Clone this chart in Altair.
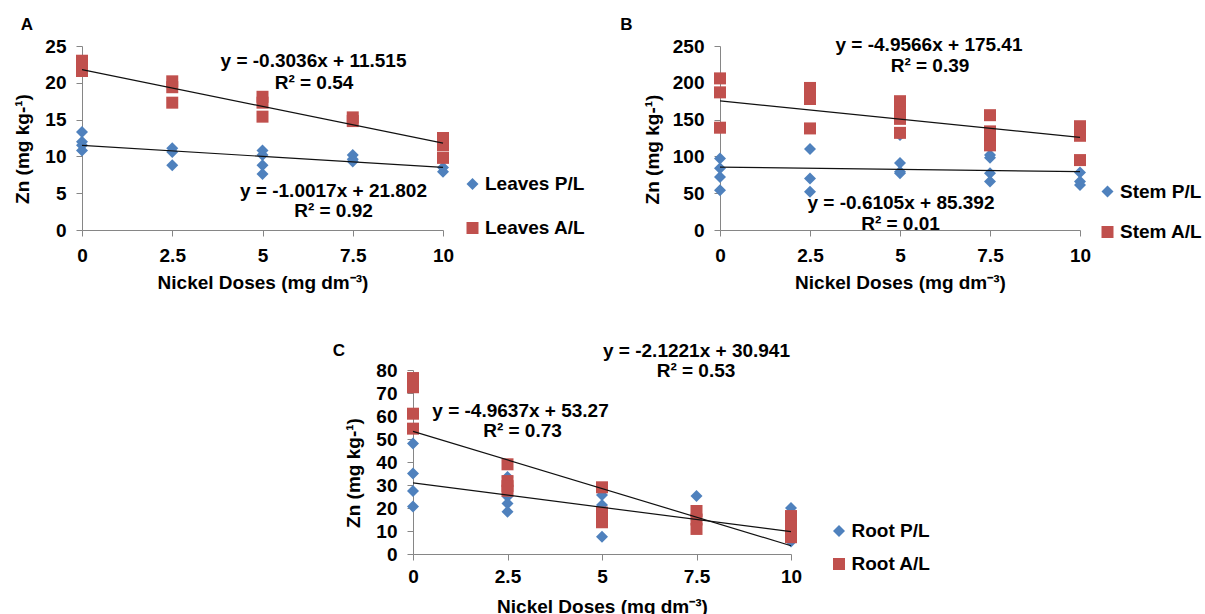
import altair as alt
import pandas as pd

FONT = "Liberation Sans"
BLUE = "#4F81BD"
RED = "#C0504D"
W, H = 1205, 614

# ---------------- data ----------------
x_ticks = [0, 2.5, 5, 7.5, 10]
trend_x = [0, 10]

# Panel A (leaves)
leaves_pl_x = [0, 0, 0, 0, 2.5, 2.5, 2.5, 5, 5, 5, 5, 7.5, 7.5, 7.5, 10, 10]
leaves_pl_y = [13.3, 12.0, 11.5, 10.8, 11.1, 10.6, 8.8, 10.8, 10.2, 8.8, 7.6, 10.2, 9.6, 9.3, 8.5, 7.9]
leaves_al_x = [0, 0, 0, 2.5, 2.5, 2.5, 5, 5, 5, 7.5, 7.5, 10, 10, 10]
leaves_al_y = [23.0, 22.4, 21.6, 20.2, 19.4, 17.3, 18.1, 17.3, 15.4, 15.3, 14.8, 12.5, 11.5, 9.8]
leaves_pl_trend = [11.5, 8.5]
leaves_al_trend = [21.8, 11.8]
leaves_yticks = [0, 5, 10, 15, 20, 25]

# Panel B (stem)
stem_pl_x = [0, 0, 0, 0, 2.5, 2.5, 2.5, 5, 5, 5, 5, 7.5, 7.5, 7.5, 7.5, 10, 10, 10]
stem_pl_y = [97, 84, 72, 54, 110, 70, 52, 129, 91, 79, 77, 102, 98, 77, 66, 78, 66, 61]
stem_al_x = [0, 0, 0, 2.5, 2.5, 2.5, 2.5, 5, 5, 5, 5, 7.5, 7.5, 7.5, 7.5, 10, 10, 10, 10]
stem_al_y = [206, 187, 139, 193, 184, 178, 138, 175, 160, 151, 132, 156, 134, 125, 115, 141, 133, 128, 95]
stem_pl_trend = [85.4, 79.3]
stem_al_trend = [175.4, 125.8]
stem_yticks = [0, 50, 100, 150, 200, 250]

# Panel C (root)
root_pl_x = [0, 0, 0, 0, 2.5, 2.5, 2.5, 2.5, 5, 5, 5, 5, 7.5, 7.5, 7.5, 10, 10, 10]
root_pl_y = [48, 35, 27.4, 20.6, 33.5, 25, 22, 18.4, 25.6, 21.3, 14.5, 7.5, 25.2, 17, 14.8, 20, 9, 5.4]
root_al_x = [0, 0, 0, 0, 2.5, 2.5, 2.5, 2.5, 5, 5, 5, 5, 7.5, 7.5, 7.5, 10, 10, 10]
root_al_y = [76.5, 72.5, 61, 54.5, 39, 31.7, 29.5, 27.5, 29, 18, 15.5, 13.8, 18.7, 15, 10.9, 16.5, 12, 7.3]
root_pl_trend = [30.9, 9.7]
root_al_trend = [53.3, 3.6]
root_yticks = [0, 10, 20, 30, 40, 50, 60, 70, 80]

X_TITLE = "Nickel Doses (mg dm⁻³)"
Y_TITLE = "Zn (mg kg-¹)"
PLAIN = "'' + datum.value"


def panel(name_pl, name_al, pl_x, pl_y, al_x, al_y, tr_pl, tr_al, ymax, yticks,
          xr, yr, ytitle_x, ytitle_y, xlab_pad, leg_x, leg_y, leg_row):
    df = pd.DataFrame({
        "dose": pl_x + al_x,
        "zn": pl_y + al_y,
        "series": [name_pl] * len(pl_x) + [name_al] * len(al_x),
    })
    tdf = pd.DataFrame({
        "dose": trend_x + trend_x,
        "zn": tr_pl + tr_al,
        "series": [name_pl] * 2 + [name_al] * 2,
    })
    xscale = alt.Scale(domain=[0, 10], range=xr, nice=False, zero=False)
    yscale = alt.Scale(domain=[0, ymax], range=yr, nice=False)
    xaxis = alt.Axis(orient="bottom", offset=yr[0] - H, values=x_ticks, labelExpr=PLAIN,
                     title=X_TITLE, titleY=58, titleBaseline="alphabetic",
                     labelPadding=xlab_pad, labelFlush=False)
    yaxis = alt.Axis(orient="left", offset=-xr[0], values=yticks, labelExpr=PLAIN,
                     title=Y_TITLE, titleX=ytitle_x, titleY=ytitle_y, titleAngle=270,
                     titleAlign="center", titleBaseline="alphabetic", labelPadding=10)
    legend = alt.Legend(orient="none", legendX=leg_x, legendY=leg_y, title=None,
                        padding=0, rowPadding=leg_row, labelOffset=3, symbolSize=144,
                        symbolStrokeWidth=0, labelFont=FONT, labelFontSize=19,
                        labelFontWeight="bold", labelColor="black")
    cdom = [name_pl, name_al]
    pts = alt.Chart(df).mark_point(filled=True, size=144, opacity=1).encode(
        x=alt.X("dose:Q", scale=xscale, axis=xaxis),
        y=alt.Y("zn:Q", scale=yscale, axis=yaxis),
        color=alt.Color("series:N", scale=alt.Scale(domain=cdom, range=[BLUE, RED]), legend=legend),
        shape=alt.Shape("series:N", scale=alt.Scale(domain=cdom, range=["diamond", "square"]), legend=legend),
    )
    lines = alt.Chart(tdf).mark_line(color="#111111", strokeWidth=1.2).encode(
        x=alt.X("dose:Q", scale=xscale, axis=xaxis),
        y=alt.Y("zn:Q", scale=yscale, axis=yaxis),
        detail="series:N",
    )
    return alt.layer(pts, lines)


pA = panel("Leaves P/L", "Leaves A/L", leaves_pl_x, leaves_pl_y, leaves_al_x, leaves_al_y,
           leaves_pl_trend, leaves_al_trend, 25, leaves_yticks,
           [82, 443], [230, 46], -54, 148.5, 10, 463, 174.5, 24)
pB = panel("Stem P/L", "Stem A/L", stem_pl_x, stem_pl_y, stem_al_x, stem_al_y,
           stem_pl_trend, stem_al_trend, 250, stem_yticks,
           [720, 1080], [230, 46], -62, 149, 10, 1098, 182, 20.5)
pC = panel("Root P/L", "Root A/L", root_pl_x, root_pl_y, root_al_x, root_al_y,
           root_pl_trend, root_al_trend, 80, root_yticks,
           [413, 791], [554, 370], -54, 472.5, 7, 829.5, 521.5, 13)

one = pd.DataFrame({"k": [0]})


def label(txt, px, py, size=19):
    return alt.Chart(one).mark_text(font=FONT, fontSize=size, fontWeight="bold",
                                    align="center", baseline="middle", color="black").encode(
        x=alt.value(px), y=alt.value(py), text=alt.value(txt))


texts = [
    label("A", 27, 25, 17), label("B", 626.5, 24.5, 17), label("C", 339, 351, 17),
    label("y = -0.3036x + 11.515", 313.5, 61), label("R² = 0.54", 314, 83),
    label("y = -1.0017x + 21.802", 333.5, 190.5), label("R² = 0.92", 333.5, 211),
    label("y = -4.9566x + 175.41", 929, 44.5), label("R² = 0.39", 930, 66),
    label("y = -0.6105x + 85.392", 901, 202.5), label("R² = 0.01", 900.5, 224),
    label("y = -2.1221x + 30.941", 696.5, 351), label("R² = 0.53", 696, 371),
    label("y = -4.9637x + 53.27", 520.5, 410.5), label("R² = 0.73", 522.5, 431),
]

chart = alt.layer(pA, pB, pC, *texts).resolve_scale(
    x="independent", y="independent", color="independent", shape="independent"
).resolve_axis(x="independent", y="independent").resolve_legend(
    color="independent", shape="independent"
).properties(
    width=W, height=H, padding=0, autosize=alt.AutoSizeParams(type="none")
).configure_view(stroke=None).configure_axis(
    grid=False, domainColor="#868686", tickColor="#868686", tickSize=6,
    labelFont=FONT, labelFontSize=19, labelFontWeight="bold", labelColor="black",
    titleFont=FONT, titleFontSize=19, titleFontWeight="bold", titleColor="black",
)

chart.save("out.html", embed_options={"renderer": "svg", "actions": False})
